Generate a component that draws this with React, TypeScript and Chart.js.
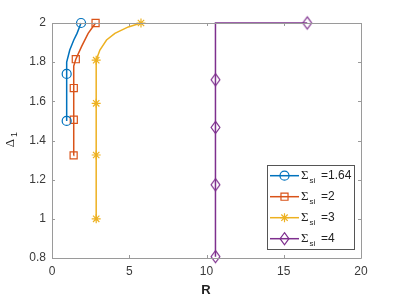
import React, { useEffect, useRef } from 'react';
import { Chart, registerables } from 'chart.js';

Chart.register(...registerables);

// Axis ticks
const xTicks = [0, 5, 10, 15, 20];
const xTickLabels = ['0', '5', '10', '15', '20'];
const yTicks = [0.8, 1, 1.2, 1.4, 1.6, 1.8, 2];
const yTickLabels = ['0.8', '1', '1.2', '1.4', '1.6', '1.8', '2'];

// Series labels (Σ_si = ...)
const seriesValues = ['1.64', '2', '3', '4'];
const seriesColors = ['#0072BD', '#D95319', '#EDB120', '#7E2F8E'];
const seriesMarkers = ['circle', 'rect', 'star', 'diamond'];
const seriesMarkerSizes = [4.5, 5, 4.5, 5.5];

// Series 1: Σ_si = 1.64
const r1 = [0.95, 0.95, 0.95, 1.15, 1.41, 1.62, 1.88];
const d1 = [1.5, 1.74, 1.8, 1.862, 1.913, 1.947, 2];
const m1 = [1, 1, 0, 0, 0, 0, 1];

// Series 2: Σ_si = 2
const r2 = [1.4, 1.41, 1.41, 1.4, 1.54, 1.91, 2.34, 2.82];
const d2 = [1.324, 1.506, 1.668, 1.78, 1.815, 1.879, 1.947, 2];
const m2 = [1, 1, 1, 0, 1, 0, 0, 1];

// Series 3: Σ_si = 3
const r3 = [2.86, 2.86, 2.86, 2.86, 3.1, 3.53, 4.07, 4.94, 5.76];
const d3 = [1.0, 1.326, 1.59, 1.81, 1.862, 1.913, 1.947, 1.98, 2];
const m3 = [1, 1, 1, 1, 0, 0, 0, 0, 1];

// Series 4: Σ_si = 4
const r4 = [10.58, 10.58, 10.58, 10.58, 10.58, 16.52];
const d4 = [0.807, 1.174, 1.467, 1.71, 2, 2];
const m4 = [1, 1, 1, 1, 0, 1];

const seriesR = [r1, r2, r3, r4];
const seriesD = [d1, d2, d3, d4];
const seriesM = [m1, m2, m3, m4];

const AXIS_COLOR = '#9a9a9a';
const TEXT_COLOR = '#3a3a3a';

function drawMarker(ctx: CanvasRenderingContext2D, kind: string, x: number, y: number, r: number) {
  ctx.beginPath();
  if (kind === 'circle') {
    ctx.arc(x, y, r, 0, Math.PI * 2);
  } else if (kind === 'rect') {
    const s = r * Math.SQRT1_2;
    ctx.rect(x - s, y - s, 2 * s, 2 * s);
  } else if (kind === 'diamond') {
    const w = r * 0.8;
    const h = r * 1.1;
    ctx.moveTo(x, y - h);
    ctx.lineTo(x + w, y);
    ctx.lineTo(x, y + h);
    ctx.lineTo(x - w, y);
    ctx.closePath();
  } else if (kind === 'star') {
    ctx.moveTo(x - r, y);
    ctx.lineTo(x + r, y);
    ctx.moveTo(x, y - r);
    ctx.lineTo(x, y + r);
    const q = r * Math.SQRT1_2;
    ctx.moveTo(x - q, y - q);
    ctx.lineTo(x + q, y + q);
    ctx.moveTo(x - q, y + q);
    ctx.lineTo(x + q, y - q);
  }
  ctx.stroke();
}

function makeDiamondImage(color: string, r: number): HTMLCanvasElement {
  const c = document.createElement('canvas');
  const size = Math.ceil(r * 2.6) + 2;
  c.width = size;
  c.height = size;
  const cx = c.getContext('2d')!;
  cx.strokeStyle = color;
  cx.lineWidth = 1.2;
  drawMarker(cx, 'diamond', size / 2, size / 2, r);
  return c;
}

const framePlugin = {
  id: 'matlabFrame',
  afterDraw(chart: any) {
    const ctx: CanvasRenderingContext2D = chart.ctx;
    const { left, right, top, bottom } = chart.chartArea;
    const xs = chart.scales.x;
    const ys = chart.scales.y;
    ctx.save();
    // frame
    ctx.strokeStyle = AXIS_COLOR;
    ctx.lineWidth = 1;
    ctx.beginPath();
    ctx.rect(Math.round(left) + 0.5, Math.round(top) + 0.5, Math.round(right - left), Math.round(bottom - top));
    ctx.stroke();
    // inward ticks
    const tl = 3;
    ctx.beginPath();
    xTicks.forEach((v) => {
      const px = Math.round(xs.getPixelForValue(v)) + 0.5;
      ctx.moveTo(px, bottom);
      ctx.lineTo(px, bottom - tl);
      ctx.moveTo(px, top);
      ctx.lineTo(px, top + tl);
    });
    yTicks.forEach((v) => {
      const py = Math.round(ys.getPixelForValue(v)) + 0.5;
      ctx.moveTo(left, py);
      ctx.lineTo(left + tl, py);
      ctx.moveTo(right, py);
      ctx.lineTo(right - tl, py);
    });
    ctx.stroke();

    // axis titles
    ctx.fillStyle = '#222';
    ctx.font = 'bold 13px "Liberation Sans", Arial, sans-serif';
    ctx.textAlign = 'center';
    ctx.textBaseline = 'middle';
    ctx.fillText('R', 206, 290);

    ctx.save();
    ctx.translate(14, 143);
    ctx.rotate(-Math.PI / 2);
    ctx.textAlign = 'center';
    ctx.textBaseline = 'alphabetic';
    ctx.font = '13px "Liberation Serif", serif';
    ctx.fillText('Δ', 0, 0);
    ctx.font = '9px "Liberation Sans", Arial, sans-serif';
    ctx.textAlign = 'left';
    ctx.fillText('1', 6, 3);
    ctx.restore();

    // legend
    const bx = 267.5, by = 165.5, bw = 87, bh = 84;
    ctx.fillStyle = '#ffffff';
    ctx.fillRect(bx, by, bw, bh);
    ctx.strokeStyle = '#555';
    ctx.lineWidth = 1;
    ctx.strokeRect(bx, by, bw, bh);
    seriesValues.forEach((val, i) => {
      const y = 175.7 + i * 21;
      ctx.strokeStyle = seriesColors[i];
      ctx.lineWidth = 1.5;
      ctx.beginPath();
      ctx.moveTo(270, y);
      ctx.lineTo(299, y);
      ctx.stroke();
      ctx.lineWidth = 1.2;
      drawMarker(ctx, seriesMarkers[i], 284.5, y, seriesMarkerSizes[i]);
      ctx.fillStyle = '#222';
      ctx.textAlign = 'left';
      ctx.textBaseline = 'middle';
      ctx.font = '13px "Liberation Serif", serif';
      ctx.fillText('Σ', 301, y);
      const x = 301 + ctx.measureText('Σ').width + 1;
      ctx.font = '8px "Liberation Sans", Arial, sans-serif';
      ctx.fillText('si', x, y + 5);
      ctx.font = '12px "Liberation Sans", Arial, sans-serif';
      ctx.fillText('=' + val, 321, y);
    });
    ctx.restore();
  },
};

export default function App() {
  const canvasRef = useRef<HTMLCanvasElement | null>(null);

  useEffect(() => {
    document.body.style.margin = '0';
    const canvas = canvasRef.current;
    if (!canvas) return;

    const datasets = seriesValues.map((val, i) => {
      const style: any =
        seriesMarkers[i] === 'diamond'
          ? makeDiamondImage(seriesColors[i], seriesMarkerSizes[i])
          : seriesMarkers[i];
      return {
        label: 'Σsi =' + val,
        data: seriesR[i].map((r, j) => ({ x: r, y: seriesD[i][j] })),
        borderColor: seriesColors[i],
        backgroundColor: 'rgba(0,0,0,0)',
        borderWidth: 1.5,
        showLine: true,
        tension: 0,
        pointStyle: style,
        pointRadius: seriesM[i].map((m) => (m ? seriesMarkerSizes[i] : 0)),
        pointBorderWidth: 1.2,
        pointBorderColor: seriesColors[i],
        pointBackgroundColor: 'rgba(0,0,0,0)',
        clip: false as any,
      };
    });

    const chart = new Chart(canvas, {
      type: 'scatter',
      data: { datasets },
      options: {
        animation: false,
        responsive: true,
        maintainAspectRatio: false,
        layout: { padding: { left: 0, right: 38, top: 23, bottom: 0 } },
        plugins: {
          legend: { display: false },
          tooltip: { enabled: false },
        },
        scales: {
          x: {
            type: 'linear',
            min: 0,
            max: 20,
            grid: { display: false, drawTicks: false },
            border: { display: false },
            afterBuildTicks: (s: any) => {
              s.ticks = xTicks.map((v) => ({ value: v }));
            },
            afterFit: (s: any) => {
              s.height = 41;
            },
            ticks: {
              padding: 6,
              color: TEXT_COLOR,
              font: { size: 12, family: '"Liberation Sans", Arial, sans-serif' },
              maxRotation: 0,
              callback: (v: any) => {
                const k = xTicks.indexOf(Number(v));
                return k >= 0 ? xTickLabels[k] : '';
              },
            },
          },
          y: {
            type: 'linear',
            min: 0.8,
            max: 2,
            grid: { display: false, drawTicks: false },
            border: { display: false },
            afterBuildTicks: (s: any) => {
              s.ticks = yTicks.map((v) => ({ value: v }));
            },
            afterFit: (s: any) => {
              s.width = 52;
            },
            ticks: {
              padding: 6,
              color: TEXT_COLOR,
              font: { size: 12, family: '"Liberation Sans", Arial, sans-serif' },
              callback: (v: any) => {
                const k = yTicks.findIndex((t) => Math.abs(t - Number(v)) < 1e-6);
                return k >= 0 ? yTickLabels[k] : '';
              },
            },
          },
        },
      },
      plugins: [framePlugin],
    });

    return () => {
      chart.destroy();
    };
  }, []);

  return (
    <div style={{ position: 'relative', width: 399, height: 299 }}>
      <canvas ref={canvasRef} />
    </div>
  );
}
